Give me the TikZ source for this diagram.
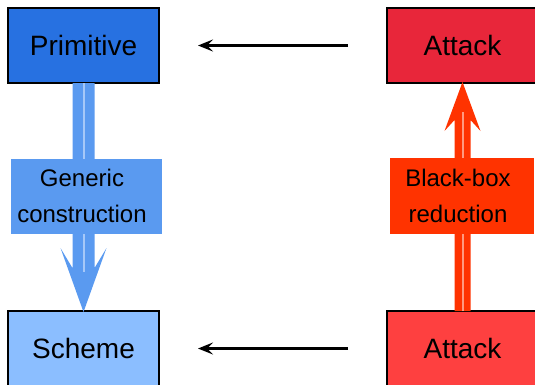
\documentclass[tikz,border=0pt]{standalone}
\usepackage{fontspec}
\setmainfont{Liberation Sans}
\usetikzlibrary{arrows.meta,calc}
\definecolor{primblue}{HTML}{2771E1}
\definecolor{schemeblue}{HTML}{8BBEFF}
\definecolor{attackred}{HTML}{E8263A}
\definecolor{attackred2}{HTML}{FE4040}
\definecolor{genblue}{HTML}{5A9AF0}
\definecolor{genlight}{HTML}{A6C8F8}
\definecolor{redarr}{HTML}{FF3300}
\definecolor{redlight}{HTML}{FF9A80}
\tikzset{
  mainbox/.style={draw=black, line width=1.5pt, minimum width=151pt, minimum height=75pt,
    inner sep=0pt, outer sep=0pt, font=\fontsize{28}{34}\selectfont},
  lblbox/.style={inner sep=0pt, outer sep=0pt, minimum height=75pt},
  lbltext/.style={align=center, inner sep=0pt, font=\fontsize{24}{36}\selectfont},
  flowarrow/.style={line width=3.5pt, -{Stealth[length=15pt,width=12pt,inset=6pt]},
    shorten >=39pt, shorten <=39pt}
}
\begin{document}
\begin{tikzpicture}[x=1pt,y=-1pt]
\useasboundingbox (0,0) rectangle (535,384);
\node[mainbox, fill=primblue] (prim) at (83.5,45.5) {Primitive};
\node[mainbox, fill=schemeblue] (scheme) at (83.5,348.5) {Scheme};
\node[mainbox, fill=attackred] (atk1) at (462.5,45.5) {Attack};
\node[mainbox, fill=attackred2] (atk2) at (462.5,348.5) {Attack};
% black arrows
\draw[flowarrow] (atk1) -- (prim);
\draw[flowarrow] (atk2) -- (scheme);
% blue construction arrow
\coordinate (btip) at ([yshift=-1pt]scheme.north);
\fill[genblue] ([xshift=-11pt]prim.south) -- ([xshift=11pt]prim.south)
  -- ($(btip)+(11,-44)$) -- ($(btip)+(23,-64)$) -- (btip)
  -- ($(btip)+(-23,-64)$) -- ($(btip)+(-11,-44)$) -- cycle;
\draw[genlight, line width=2pt] (prim.south) -- ($(btip)+(0,-40)$);
% red reduction arrow
\coordinate (rtip) at ([yshift=1pt]atk1.south);
\fill[redarr] ([xshift=-8pt]atk2.north) -- ([xshift=8pt]atk2.north)
  -- ($(rtip)+(8,38)$) -- ($(rtip)+(18,49)$) -- (rtip)
  -- ($(rtip)+(-18,49)$) -- ($(rtip)+(-8,38)$) -- cycle;
\draw[redlight, line width=2pt] (atk2.north) -- ($(rtip)+(0,30)$);
% labels
\node[lblbox, fill=genblue, minimum width=151pt] (genbox) at (86.5,196.5) {};
\node[lbltext] (gentext) at (82,196) {Generic\\construction};
\node[lblbox, fill=redarr, minimum width=144pt, minimum height=76pt] (redbox) at (462,196) {};
\node[lbltext] (redtext) at (458,196) {Black-box\\reduction};
\end{tikzpicture}
\end{document}
